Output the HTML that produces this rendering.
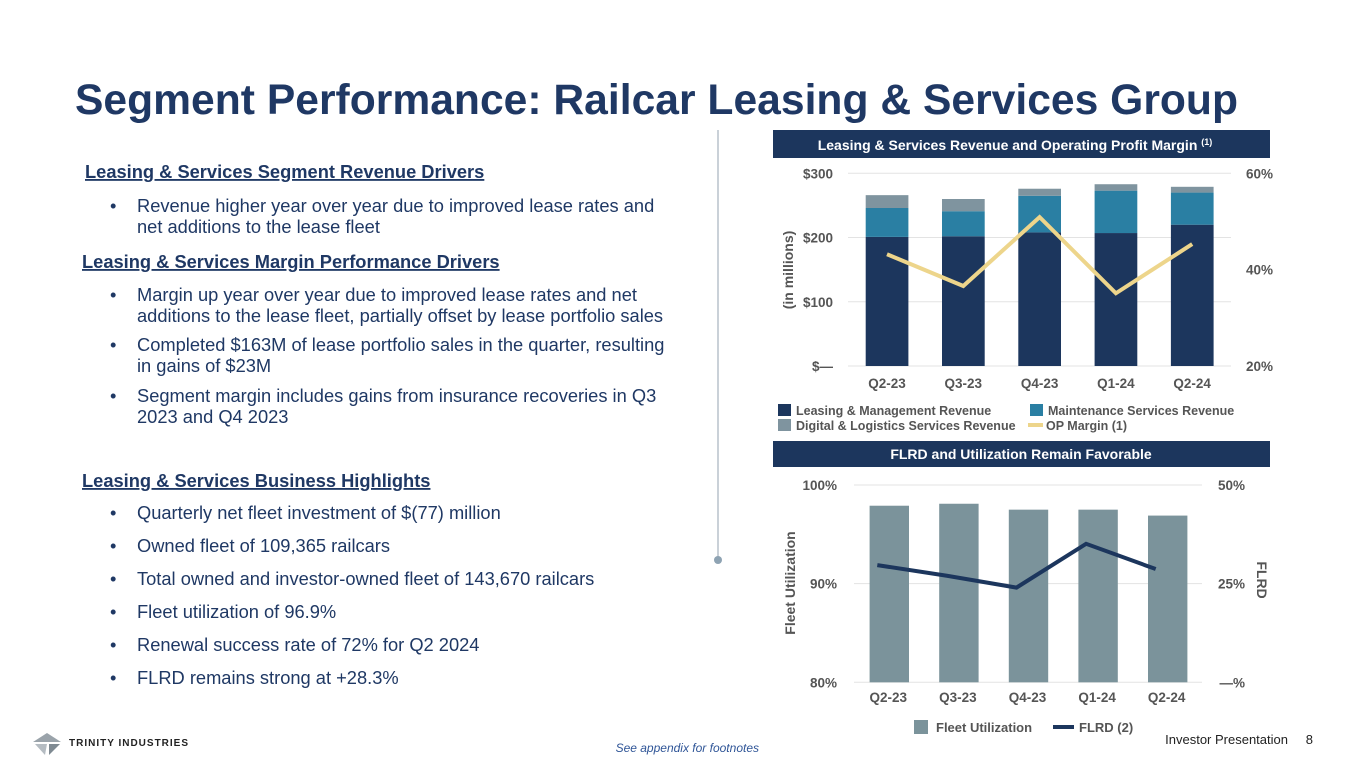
<!DOCTYPE html>
<html><head><meta charset="utf-8"><style>
body{margin:0;width:1365px;height:768px;overflow:hidden;background:#fff;font-family:"Liberation Sans",Arial,sans-serif}
svg text{font-family:"Liberation Sans",Arial,sans-serif}
</style></head><body>
<svg id="s" width="1365" height="768" viewBox="0 0 1365 768" xmlns="http://www.w3.org/2000/svg">
<text x="75" y="114" font-size="42.6" font-weight="bold" fill="#1f3864" textLength="1163">Segment Performance: Railcar Leasing &amp; Services Group</text>
<g fill="#1f3864" font-size="18.3">
<text x="85" y="178" font-weight="bold" text-decoration="underline">Leasing &amp; Services Segment Revenue Drivers</text>
<text x="110" y="212">•</text><text x="137" y="212">Revenue higher year over year due to improved lease rates and</text>
<text x="137" y="233">net additions to the lease fleet</text>
<text x="82" y="268" font-weight="bold" text-decoration="underline">Leasing &amp; Services Margin Performance Drivers</text>
<text x="110" y="301">•</text><text x="137" y="301">Margin up year over year due to improved lease rates and net</text>
<text x="137" y="322">additions to the lease fleet, partially offset by lease portfolio sales</text>
<text x="110" y="351">•</text><text x="137" y="351">Completed $163M of lease portfolio sales in the quarter, resulting</text>
<text x="137" y="372">in gains of $23M</text>
<text x="110" y="402">•</text><text x="137" y="402">Segment margin includes gains from insurance recoveries in Q3</text>
<text x="137" y="423">2023 and Q4 2023</text>
<text x="82" y="487" font-weight="bold" text-decoration="underline">Leasing &amp; Services Business Highlights</text>
<text x="110" y="519">•</text><text x="137" y="519">Quarterly net fleet investment of $(77) million</text>
<text x="110" y="552">•</text><text x="137" y="552">Owned fleet of 109,365 railcars</text>
<text x="110" y="585">•</text><text x="137" y="585">Total owned and investor-owned fleet of 143,670 railcars</text>
<text x="110" y="618">•</text><text x="137" y="618">Fleet utilization of 96.9%</text>
<text x="110" y="651">•</text><text x="137" y="651">Renewal success rate of 72% for Q2 2024</text>
<text x="110" y="684">•</text><text x="137" y="684">FLRD remains strong at +28.3%</text>
</g>
<line x1="718" y1="130" x2="718" y2="558" stroke="#b8c2cc" stroke-width="1.5"/>
<circle cx="718" cy="560" r="4" fill="#8ea3b3"/>
<rect x="773" y="130" width="497" height="28" fill="#1c365d"/>
<text x="1015" y="150" text-anchor="middle" font-size="14" font-weight="bold" fill="#fff">Leasing &amp; Services Revenue and Operating Profit Margin <tspan font-size="9" dy="-5">(1)</tspan></text>
<rect x="773" y="441" width="497" height="26" fill="#1c365d"/>
<text x="1021" y="459" text-anchor="middle" font-size="14" font-weight="bold" fill="#fff">FLRD and Utilization Remain Favorable</text>
<g id="top"></g>
<g id="bot"></g>
<g>
<polygon points="33,742 47,733 61,742" fill="#9aa3aa"/>
<polygon points="35,744 47,744 45,755" fill="#b5bcc2"/>
<polygon points="49,744 60,744 49,755" fill="#7f8a92"/>
<text x="69" y="746" font-size="10" font-weight="bold" fill="#222" textLength="119">TRINITY INDUSTRIES</text>
</g>
<text x="759" y="752" text-anchor="end" font-size="12" font-style="italic" fill="#2f5597">See appendix for footnotes</text>
<text x="1288" y="744" text-anchor="end" font-size="13" fill="#222">Investor Presentation</text>
<text x="1313" y="744" text-anchor="end" font-size="13" fill="#222">8</text>
</svg>
<script>
const quarters=["Q2-23","Q3-23","Q4-23","Q1-24","Q2-24"];
const leasingRev=[201,202,208,207,220];
const maintRev=[45,39,57,66,50];
const digitalRev=[20,19,11,10,9];
const opMargin=[43.2,36.6,50.9,35.1,45.3];
const revTicks=[0,100,200,300];
const revTickLabels=["$—","$100","$200","$300"];
const marginTicks=[20,40,60];
const utilization=[97.9,98.1,97.5,97.5,96.9];
const flrd=[29.7,27.0,24.0,35.1,28.7];
const utilTicks=[80,90,100];
const flrdTicks=[0,25,50];
const flrdTickLabels=["—%","25%","50%"];
const NS="http://www.w3.org/2000/svg";
function mk(p,t,a,txt){const e=document.createElementNS(NS,t);for(const k in a)e.setAttribute(k,a[k]);if(txt!==undefined)e.textContent=txt;p.appendChild(e);return e;}
const T=document.getElementById('top');
const tx=i=>887+i*76.3, ty=v=>366-v*0.6423, tyR=v=>366-(v-20)*4.8175;
revTicks.forEach((v,i)=>{mk(T,'line',{x1:848,x2:1231,y1:ty(v),y2:ty(v),stroke:'#e3e3e3'});
 const l=mk(T,'text',{x:833,y:ty(v)+5,'text-anchor':'end','font-size':13.5,'font-weight':'bold',fill:'#555'},revTickLabels[i]);
 });
marginTicks.forEach(v=>{const l=mk(T,'text',{x:1273,y:tyR(v)+5,'text-anchor':'end','font-size':13.5,'font-weight':'bold',fill:'#555'},v+'%');
 });
const yt=mk(T,'text',{x:0,y:0,transform:'translate(793,270) rotate(-90)','text-anchor':'middle','font-size':14,'font-weight':'bold',fill:'#555'},'(in millions)');

quarters.forEach((q,i)=>{const x=tx(i)-21.3;
 const a=leasingRev[i],b=maintRev[i],c=digitalRev[i];
 const r1=mk(T,'rect',{x:x,width:42.7,y:ty(a),height:ty(0)-ty(a),fill:'#1c365d'});
 const r2=mk(T,'rect',{x:x,width:42.7,y:ty(a+b),height:ty(a)-ty(a+b),fill:'#2a7fa3'});
 const r3=mk(T,'rect',{x:x,width:42.7,y:ty(a+b+c),height:ty(a+b)-ty(a+b+c),fill:'#7f949f'});
 const l=mk(T,'text',{x:tx(i),y:388,'text-anchor':'middle','font-size':13.5,'font-weight':'bold',fill:'#555'},q);});
const pl=mk(T,'polyline',{points:opMargin.map((v,i)=>tx(i)+','+tyR(v)).join(' '),fill:'none',stroke:'#edd58b','stroke-width':4});

[[778,404,'#1c365d','Leasing & Management Revenue'],[1030,404,'#2a7fa3','Maintenance Services Revenue'],[778,419,'#7f949f','Digital & Logistics Services Revenue']].forEach(d=>{
 const g=mk(T,'g',{});
 mk(g,'rect',{x:d[0],y:d[1],width:13,height:12,fill:d[2]});mk(g,'text',{x:d[0]+18,y:d[1]+11,'font-size':12.5,'font-weight':'bold',fill:'#555'},d[3]);});
const lg=mk(T,'g',{});
mk(lg,'line',{x1:1028,x2:1043,y1:425,y2:425,stroke:'#edd58b','stroke-width':4});mk(lg,'text',{x:1046,y:430,'font-size':12.5,'font-weight':'bold',fill:'#555'},'OP Margin (1)');
const B=document.getElementById('bot');
const bx=i=>889.3+i*69.6, by=v=>682.3-(v-80)*9.865, byR=v=>682.3-v*3.946;
utilTicks.forEach(v=>{mk(B,'line',{x1:854,x2:1202,y1:by(v),y2:by(v),stroke:'#e3e3e3'});
 const l=mk(B,'text',{x:837,y:by(v)+5,'text-anchor':'end','font-size':13.5,'font-weight':'bold',fill:'#555'},v+'%');});
flrdTicks.forEach((v,i)=>{const l=mk(B,'text',{x:1245,y:byR(v)+5,'text-anchor':'end','font-size':13.5,'font-weight':'bold',fill:'#555'},flrdTickLabels[i]);});
const by1=mk(B,'text',{x:0,y:0,transform:'translate(795,583) rotate(-90)','text-anchor':'middle','font-size':14,'font-weight':'bold',fill:'#555'},'Fleet Utilization');
const by2=mk(B,'text',{x:0,y:0,transform:'translate(1257,580) rotate(90)','text-anchor':'middle','font-size':14,'font-weight':'bold',fill:'#555'},'FLRD');
quarters.forEach((q,i)=>{const r=mk(B,'rect',{x:bx(i)-19.7,width:39.4,y:by(utilization[i]),height:by(80)-by(utilization[i]),fill:'#7b939b'});
 
 const l=mk(B,'text',{x:bx(i)-1,y:702,'text-anchor':'middle','font-size':13.5,'font-weight':'bold',fill:'#555'},q);});
const fl=mk(B,'polyline',{points:flrd.map((v,i)=>bx(i)-12+','+byR(v)).join(' '),fill:'none',stroke:'#1c365d','stroke-width':4});

const g1=mk(B,'g',{});
mk(g1,'rect',{x:914,y:720,width:14,height:14,fill:'#7b939b'});mk(g1,'text',{x:936,y:732,'font-size':13,'font-weight':'bold',fill:'#555'},'Fleet Utilization');
const g2=mk(B,'g',{});
mk(g2,'line',{x1:1053,x2:1074,y1:727,y2:727,stroke:'#1c365d','stroke-width':4});mk(g2,'text',{x:1079,y:732,'font-size':13,'font-weight':'bold',fill:'#555'},'FLRD (2)');
</script>
</body></html>
